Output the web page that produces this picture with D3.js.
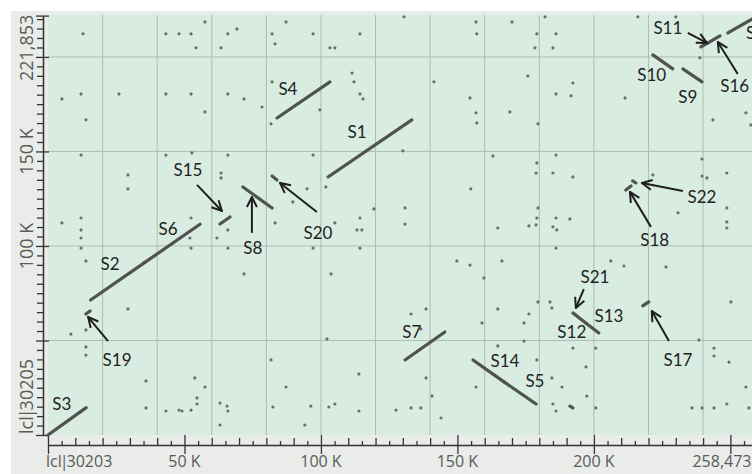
<!DOCTYPE html>
<html lang="en">
<head>
<meta charset="UTF-8">
<title>Dot plot lcl|30203 vs lcl|30205</title>
<script src="https://d3js.org/d3.v7.min.js"></script>
<style>
  body { margin: 0; background: #fff; }
  .seg-label { font-family: Lato, "Open Sans", sans-serif; font-size: 17px; fill: #222; }
  .x-label { font-family: "Open Sans", sans-serif; font-size: 16px; fill: #5a5a5a; }
  .y-label { font-family: "Open Sans", sans-serif; font-size: 18px; fill: #5a5a5a; }
</style>
</head>
<body>
<div id="chart"></div>
<script>
// sequence lengths, in K
const xMax = 258.473, yMax = 221.853;

const xLabelValues = [0, 50, 100, 150, 200, xMax];
const xLabelTexts = ["lcl|30203", "50 K", "100 K", "150 K", "200 K", "258,473"];
const yLabelValues = [0, 100, 150, yMax];
const yLabelTexts = ["lcl|30205", "100 K", "150 K", "221,853"];

// aligned segments [x1, y1, x2, y2] (K)
const segNames = ["S1", "S2", "S3", "S4", "S5", "S6", "S7", "S8", "S9", "S10", "S11",
  "S12", "S13", "S14", "S15", "S16", "S17", "S18", "S19", "S20", "S22", "S23", ""];
const segCoords = [
  [102.6, 136.5, 133.3, 166.7],
  [15.6, 71.4, 35.5, 91.3],
  [0, 0, 14, 14.5],
  [83.9, 167.7, 103.3, 186.8],
  [167.2, 28.0, 178.8, 16.4],
  [35.5, 91.3, 55.7, 111.5],
  [130.8, 39.7, 145.4, 54.5],
  [71.4, 131.2, 82.1, 120.1],
  [232.6, 193.7, 239.6, 186.8],
  [221.6, 201.1, 228.9, 193.7],
  [239.2, 205.3, 241.8, 207.4],
  [192.3, 64.6, 197.0, 59.3],
  [197.0, 59.3, 201.8, 54.0],
  [155.7, 39.7, 167.2, 28.0],
  [63.0, 111.6, 66.7, 115.3],
  [241.8, 207.4, 246.2, 211.1],
  [217.9, 68.3, 220.1, 70.4],
  [211.7, 129.6, 213.6, 131.7],
  [13.9, 64.0, 15.4, 65.6],
  [82.1, 137.0, 83.9, 134.9],
  [214.2, 134.4, 215.4, 133.3],
  [249.1, 212.7, 258.5, 220.5],
  [191.2, 15.3, 192.3, 14.3]
];

// label text positions (K)
const labelNames = ["S1", "S2", "S3", "S4", "S5", "S6", "S7", "S8", "S9", "S10", "S11", "S12",
  "S13", "S14", "S15", "S16", "S17", "S18", "S19", "S20", "S21", "S22", "S23"];
const labelPos = [
  [113.2, 160.3], [22.7, 90.5], [5.1, 16.9], [87.9, 183.1], [178.4, 28.6], [44.0, 109.0],
  [133.3, 55.0], [75.0, 99.0], [234.4, 178.8], [221.2, 190.5], [227.1, 215.3], [191.9, 55.0],
  [205.5, 63.0], [167.4, 39.2], [51.3, 140.2], [251.6, 184.7], [230.8, 39.7], [222.3, 103.2],
  [25.3, 39.7], [98.9, 106.9], [200.4, 83.6], [239.6, 125.9], [261.0, 212.7]
];

// arrows [fromX, fromY, toX, toY] (K)
const arrows = [
  [22.0, 49.7, 14.7, 62.4],     // S19
  [54.6, 132.3, 63.7, 118.5],   // S15
  [74.7, 106.9, 74.7, 125.9],   // S8
  [98.5, 118.0, 85.0, 133.3],   // S20
  [196.3, 77.2, 193.4, 67.2],   // S21
  [227.5, 49.7, 221.2, 65.6],   // S17
  [220.9, 110.1, 213.2, 128.6], // S18
  [232.6, 129.1, 217.6, 133.3], // S22
  [234.4, 212.7, 241.4, 207.4], // S11
  [252.7, 191.0, 245.4, 207.9]  // S16
];

// short matches (K)
const dots = [
  [12.8,212.2],[57.5,218.5],[43.2,212.2],[48.0,212.2],[52.4,212.2],[54.2,204.8],[63.4,204.8],[65.9,212.2],[69.2,214.8],
  [5.1,177.8],[12.1,180.4],[13.9,166.7],[26.0,180.4],[43.2,180.4],[52.4,180.4],[57.5,170.9],[65.9,180.4],[71.8,177.8],
  [12.1,148.1],[29.3,137.6],[29.3,130.2],[43.2,148.1],[52.7,149.2],[65.9,148.1],[63.4,138.6],[63.4,136.0],
  [5.1,112.2],[12.1,114.8],[12.1,108.5],[52.4,114.8],[65.9,108.5],
  [87.2,218.5],[82.1,212.2],[83.2,206.9],[97.1,212.2],[114.3,212.2],[103.3,204.8],[105.1,204.8],[130.4,221.2],[156.8,218.5],[157.1,212.2],
  [111.4,191.5],[112.1,186.8],[114.3,180.4],[115.4,177.8],[82.1,186.8],[78.4,173.5],[81.7,164.6],[99.6,172.0],
  [141.4,186.8],[154.6,178.3],[156.8,170.4],[157.1,165.1],[130.0,150.3],[97.1,148.1],[163.0,147.6],
  [101.8,131.2],[94.9,130.2],[89.7,123.3],[154.9,130.2],[119.4,119.6],[130.8,120.1],[130.8,111.6],[114.3,114.8],
  [113.2,108.5],[115.0,108.5],[83.2,112.2],[105.1,112.2],[164.8,109.5],[169.2,170.9],
  [170.0,218.5],[182.1,221.2],[179.1,212.2],[186.1,212.2],[178.4,204.8],[185.0,204.8],[216.1,221.2],[230.0,221.2],
  [175.8,189.9],[192.3,186.2],[186.1,180.4],[191.6,179.4],[211.4,178.3],[179.5,164.6],[238.8,199.5],[243.6,166.7],[255.7,170.4],[257.5,164.0],
  [186.1,148.1],[179.1,143.9],[178.8,138.6],[185.0,138.6],[192.3,136.5],[239.6,146.0],[239.6,137.0],[241.4,136.0],[248.7,138.6],[221.6,137.6],
  [230.8,117.5],[248.7,120.1],[248.7,112.7],[248.7,109.5],[179.5,120.1],[179.1,114.8],[178.8,111.1],[176.2,110.6],[186.1,114.8],[191.2,114.3],[185.0,110.1],[186.4,108.5],
  [12.1,104.2],[12.1,98.9],[13.9,92.1],[52.0,104.2],[52.4,98.9],[61.9,104.2],[65.9,98.9],[71.8,85.2],[29.3,66.7],[8.4,53.4],[13.9,55.6],[13.9,46.6],[13.9,42.3],
  [35.9,28.6],[35.9,14.3],[53.8,30.2],[57.5,25.4],[54.6,19.6],[54.6,16.4],[43.2,12.7],[48.0,13.2],[49.1,12.7],[52.4,13.2],[63.0,16.9],[65.6,15.3],[65.9,12.7],[63.0,5.3],
  [97.1,98.9],[114.3,98.9],[103.7,85.2],[102.2,50.8],[149.8,92.1],[154.6,89.9],[159.7,83.1],[166.3,92.1],[138.5,66.7],[133.0,64.0],[136.6,56.1],[159.0,59.3],[164.8,66.7],[164.8,47.1],
  [81.7,39.7],[87.2,25.4],[113.9,32.3],[138.5,30.2],[140.7,20.6],[156.8,25.4],[82.4,14.8],[96.3,15.3],[102.9,14.8],[105.1,16.4],[113.9,12.7],[94.1,5.3],[127.5,13.2],[133.0,14.3],[136.6,14.3],[144.0,9.0],
  [186.1,98.9],[206.2,92.1],[211.0,89.4],[226.4,88.9],[179.5,70.4],[183.9,70.4],[184.6,67.2],[176.2,64.0],[174.4,59.3],[174.4,49.7],[192.3,46.0],[200.7,46.0],[179.1,39.7],[197.1,36.0],
  [184.6,30.2],[188.3,25.4],[197.4,20.6],[185.0,16.4],[186.1,12.7],[200.7,14.3],
  [250.2,70.4],[238.5,50.3],[244.0,46.0],[244.0,41.8],[249.5,38.6],[255.7,25.4],[235.9,14.3],[239.6,14.3],[244.0,14.3],[248.7,16.4],[256.8,14.3]
];

const width = 752, height = 474;
const plotLeft = 48, plotTop = 15, plotBottom = 435;
const xAxisY = 445, yAxisX = 43;

const svg = d3.select("#chart").append("svg")
    .attr("width", width)
    .attr("height", height);

const x = d3.scaleLinear().domain([0, xMax]).range([plotLeft, 753.5]);
const y = d3.scaleLinear().domain([0, yMax]).range([plotBottom, 15.6]);

// panel + plot background
svg.append("rect").attr("x", 11).attr("y", 11).attr("width", width - 11).attr("height", height - 11)
    .attr("fill", "#e9ece9");
svg.append("rect").attr("x", plotLeft).attr("y", plotTop).attr("width", width - plotLeft).attr("height", plotBottom - plotTop)
    .attr("fill", "#d9ece1");

// grid
svg.append("g").selectAll("line")
    .data(d3.range(20, xMax, 20))
    .join("line")
    .attr("x1", d => x(d)).attr("x2", d => x(d))
    .attr("y1", plotTop).attr("y2", plotBottom)
    .attr("stroke", "#acbdb2").attr("stroke-width", 1);
svg.append("g").selectAll("line")
    .data(d3.range(50, yMax, 50))
    .join("line")
    .attr("x1", plotLeft).attr("x2", width)
    .attr("y1", d => y(d)).attr("y2", d => y(d))
    .attr("stroke", "#acbdb2").attr("stroke-width", 1);

const isMajor = d => d % 50 === 0 || d === xMax || d === yMax;

// x axis
const xTicks = d3.range(0, xMax, 5).concat([xMax]);
const gx = svg.append("g")
    .attr("transform", `translate(0,${xAxisY})`)
    .call(d3.axisBottom(x).tickValues(xTicks).tickSizeOuter(0).tickFormat(""));
gx.select(".domain").attr("stroke", "#333").attr("stroke-width", 1.5);
gx.selectAll(".tick line")
    .attr("stroke", "#333").attr("stroke-width", 1.3)
    .attr("y1", d => isMajor(d) ? 9 : 0)
    .attr("y2", d => isMajor(d) ? -10 : (d % 10 === 0 ? -7 : -4));

// y axis
const yTicks = d3.range(0, yMax, 5).concat([yMax]);
const gy = svg.append("g")
    .attr("transform", `translate(${yAxisX},0)`)
    .call(d3.axisLeft(y).tickValues(yTicks).tickSizeOuter(0).tickFormat(""));
gy.select(".domain").attr("stroke", "#333").attr("stroke-width", 1.5);
gy.selectAll(".tick line")
    .attr("stroke", "#333").attr("stroke-width", 1.3)
    .attr("x1", d => isMajor(d) ? 6 : 0)
    .attr("x2", d => isMajor(d) ? -7 : -6);

// write a label, pulling the "|" in tight as in the original
function pipeText(sel, txt) {
    const parts = txt.split("|");
    if (parts.length === 1) { sel.text(txt); return; }
    sel.append("tspan").text(parts[0]);
    sel.append("tspan").attr("dx", -2).text("|");
    sel.append("tspan").attr("dx", -2).text(parts[1]);
}

// axis labels
svg.append("g").selectAll("text")
    .data(xLabelValues)
    .join("text")
    .attr("class", "x-label")
    .attr("x", (d, i) => i === 0 ? x(d) - 2 : (d === xMax ? x(d) - 2 : x(d)))
    .attr("y", 467)
    .attr("text-anchor", (d, i) => i === 0 ? "start" : (d === xMax ? "end" : "middle"))
    .each(function(d, i) { pipeText(d3.select(this), xLabelTexts[i]); });

svg.append("g").selectAll("text")
    .data(yLabelValues)
    .join("text")
    .attr("class", "y-label")
    .attr("transform", d => `translate(33,${d === 0 || d === yMax ? y(d) - 1 : y(d)}) rotate(-90)`)
    .attr("text-anchor", d => d === 0 ? "start" : (d === yMax ? "end" : "middle"))
    .each(function(d, i) { pipeText(d3.select(this), yLabelTexts[i]); });

// dots
svg.append("g").selectAll("circle")
    .data(dots)
    .join("circle")
    .attr("cx", d => x(d[0]))
    .attr("cy", d => y(d[1]))
    .attr("r", 1.6)
    .attr("fill", "#6a6f6b");

// segments
svg.append("g").selectAll("line")
    .data(segCoords)
    .join("line")
    .attr("x1", d => x(d[0])).attr("y1", d => y(d[1]))
    .attr("x2", d => x(d[2])).attr("y2", d => y(d[3]))
    .attr("stroke", "#4f524f")
    .attr("stroke-width", 3.2)
    .attr("stroke-linecap", "round");

// arrows
svg.append("defs").append("marker")
    .attr("id", "head")
    .attr("viewBox", "0 0 12 12")
    .attr("refX", 11).attr("refY", 6)
    .attr("markerWidth", 12).attr("markerHeight", 12)
    .attr("markerUnits", "userSpaceOnUse")
    .attr("orient", "auto")
    .append("path")
    .attr("d", "M1,1 L11,6 L1,11")
    .attr("fill", "none")
    .attr("stroke", "#1e1e1e")
    .attr("stroke-width", 2);

svg.append("g").selectAll("line")
    .data(arrows)
    .join("line")
    .attr("x1", d => x(d[0])).attr("y1", d => y(d[1]))
    .attr("x2", d => x(d[2])).attr("y2", d => y(d[3]))
    .attr("stroke", "#1e1e1e")
    .attr("stroke-width", 2)
    .attr("marker-end", "url(#head)");

// segment labels
svg.append("g").selectAll("text")
    .data(labelPos)
    .join("text")
    .attr("class", "seg-label")
    .attr("x", d => x(d[0]))
    .attr("y", d => y(d[1]))
    .attr("text-anchor", "middle")
    .attr("dominant-baseline", "central")
    .text((d, i) => labelNames[i]);
</script>
</body>
</html>
